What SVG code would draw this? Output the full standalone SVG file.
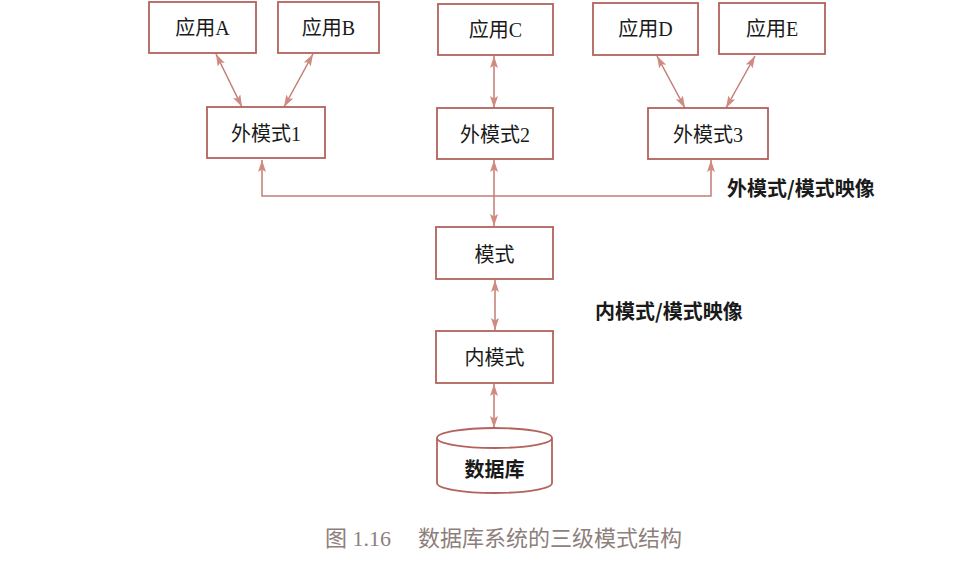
<svg xmlns="http://www.w3.org/2000/svg" width="960" height="585" viewBox="0 0 960 585">
<defs>
<style>
.box{fill:#ffffff;stroke:#b3625c;stroke-width:1.8}
.lbl{font-family:"Liberation Serif","Noto Sans CJK SC",serif;font-size:20px;fill:#1a1a1a;text-anchor:middle;dominant-baseline:central}
.map{font-family:"Noto Sans CJK SC",sans-serif;font-size:20px;font-weight:bold;fill:#1a1a1a;dominant-baseline:central}
.cap{font-family:"Liberation Serif","Noto Sans CJK SC",serif;font-size:22px;fill:#8e7f7c;dominant-baseline:central}
.con{fill:none;stroke:#c37d74;stroke-width:1.5;marker-start:url(#ah);marker-end:url(#ah)}
</style>
<marker id="ah" viewBox="0 0 12 8" refX="12" refY="4" markerWidth="12" markerHeight="8" markerUnits="userSpaceOnUse" orient="auto-start-reverse">
<path d="M0,0 L12,4 L0,8 L2.5,4 Z" fill="#d08a80"/>
</marker>
</defs>
<rect width="960" height="585" fill="#ffffff"/>
<g id="connectors">
<line class="con" x1="216" y1="54" x2="242" y2="107"/>
<line class="con" x1="313" y1="54" x2="284" y2="107"/>
<line class="con" x1="494" y1="56" x2="494" y2="108"/>
<line class="con" x1="657" y1="56" x2="685" y2="108"/>
<line class="con" x1="755" y1="56" x2="726" y2="108"/>
<path class="con" d="M262,160 L262,196 L711,196 L711,160"/>
<line class="con" x1="494" y1="160" x2="494" y2="226"/>
<line class="con" x1="495" y1="280" x2="495" y2="330"/>
<line class="con" x1="494" y1="384" x2="494" y2="428"/>
</g>
<g id="appA"><rect class="box" x="149" y="2" width="107" height="51"/><text class="lbl" x="202.5" y="28">应用A</text></g>
<g id="appB"><rect class="box" x="278" y="2" width="101" height="51"/><text class="lbl" x="328.5" y="28">应用B</text></g>
<g id="appC"><rect class="box" x="438" y="4" width="115" height="51"/><text class="lbl" x="495.5" y="30">应用C</text></g>
<g id="appD"><rect class="box" x="593" y="3" width="105" height="52"/><text class="lbl" x="645.5" y="29">应用D</text></g>
<g id="appE"><rect class="box" x="719" y="3" width="106" height="51"/><text class="lbl" x="772" y="29">应用E</text></g>
<g id="ext1"><rect class="box" x="207" y="107" width="118" height="51"/><text class="lbl" x="266" y="134">外模式1</text></g>
<g id="ext2"><rect class="box" x="437" y="108" width="116" height="51"/><text class="lbl" x="495" y="135">外模式2</text></g>
<g id="ext3"><rect class="box" x="648" y="108" width="120" height="51"/><text class="lbl" x="708" y="135">外模式3</text></g>
<g id="schema"><rect class="box" x="436" y="227" width="117" height="52"/><text class="lbl" x="494.5" y="255">模式</text></g>
<g id="internal"><rect class="box" x="436" y="331" width="117" height="52"/><text class="lbl" x="494.5" y="358">内模式</text></g>
<g id="database">
<path class="box" d="M437,438 L437,483 A57.5,10 0 0 0 552,483 L552,438 A57.5,10 0 0 0 437,438 A57.5,10 0 0 0 552,438"/>
<text class="lbl" x="494.5" y="470" style="font-weight:bold">数据库</text>
</g>
<g id="labels">
<text class="map" x="727" y="187">外模式/模式映像</text>
<text class="map" x="595" y="310">内模式/模式映像</text>
<text class="cap" x="325" y="538">图 1.16</text>
<text class="cap" x="418" y="538" textLength="264">数据库系统的三级模式结构</text>
</g>
</svg>
